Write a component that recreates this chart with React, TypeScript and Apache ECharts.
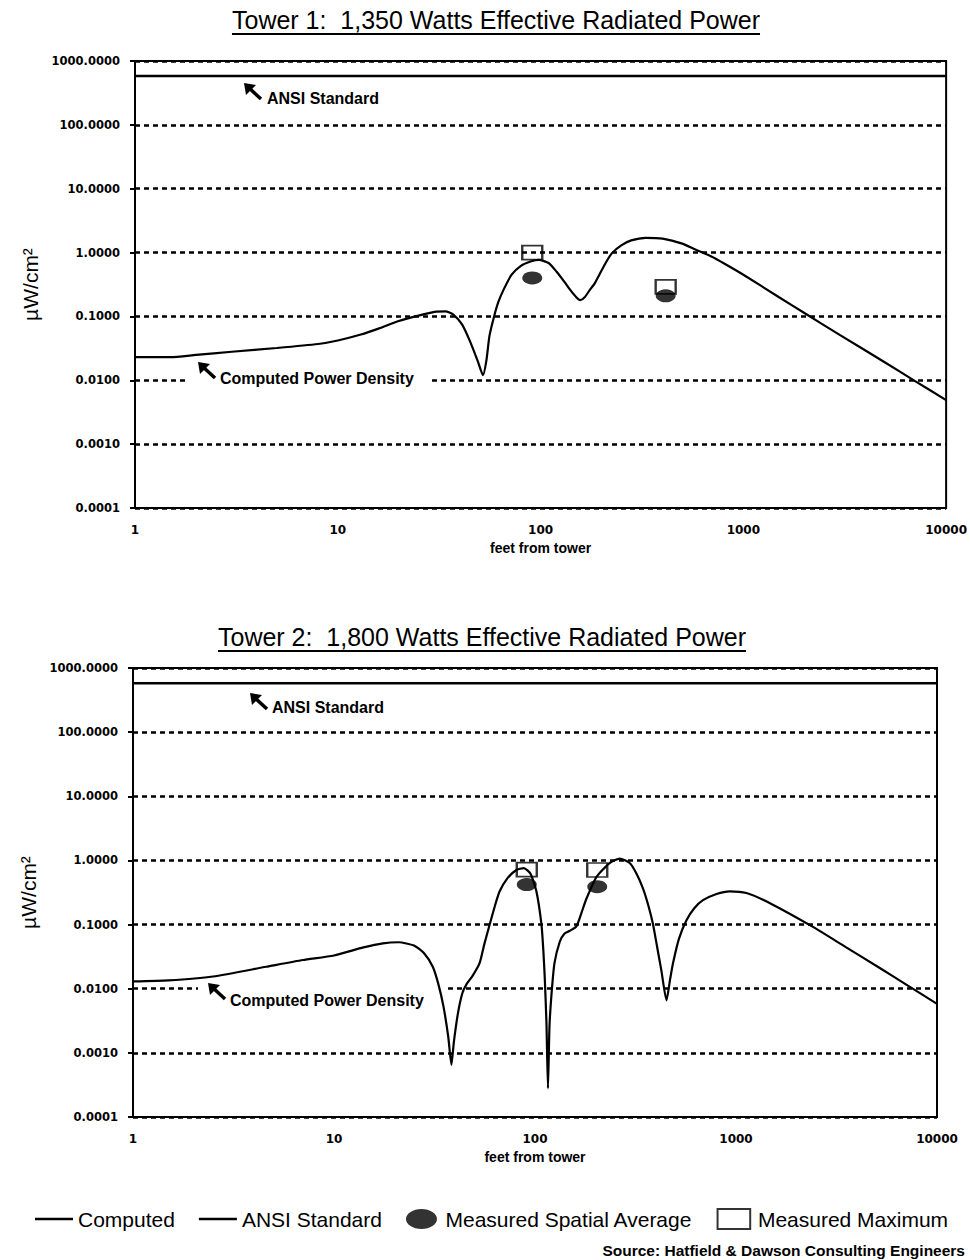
import React, { useEffect, useRef } from "react";
import * as echarts from "echarts";

// ---------- data ----------
const ANSI_LIMIT = 580;
const X_RANGE = [1, 10000];

const T1_DIST = [1, 1.5, 2, 3, 5, 8, 10, 13, 16, 20, 25, 30, 34, 37, 41, 45, 49, 52, 54, 56, 59, 62, 66, 72, 80, 90, 98, 110, 120, 130, 140, 150, 157, 165, 175, 185, 195, 210, 225, 250, 280, 330, 400, 500, 580, 700, 800, 1000, 1500, 2000, 3000, 5000, 7000, 10000];
const T1_COMPUTED = [0.023, 0.023, 0.025, 0.028, 0.032, 0.037, 0.042, 0.052, 0.065, 0.085, 0.103, 0.118, 0.12, 0.108, 0.075, 0.04, 0.02, 0.012, 0.02, 0.05, 0.1, 0.17, 0.27, 0.45, 0.62, 0.73, 0.77, 0.68, 0.5, 0.36, 0.26, 0.2, 0.18, 0.2, 0.26, 0.33, 0.45, 0.7, 0.98, 1.3, 1.55, 1.7, 1.65, 1.38, 1.12, 0.86, 0.68, 0.45, 0.2, 0.113, 0.051, 0.019, 0.0098, 0.0049];
const T1_MEAS_DIST = [91, 414];
const T1_MEAS_AVG = [0.4, 0.21];
const T1_MEAS_MAX = [1.0, 0.29];

const T2_DIST = [1, 1.5, 2.5, 4.6, 7, 10, 14, 17.5, 21, 25, 28, 31, 33, 35, 37, 38.4, 39.5, 41.4, 43.5, 45.6, 49, 53, 56, 59.5, 63, 66.7, 73, 80.8, 88, 95, 101.6, 107.7, 110, 111.8, 114, 116, 118, 120.7, 125, 132.8, 140, 149, 160.7, 170, 180, 202, 235, 264, 296, 320, 344, 366, 386, 405, 425, 451, 470, 486, 520, 567, 620, 685, 800, 930, 1127, 1500, 2415, 3500, 5190, 7000, 10000];
const T2_COMPUTED = [0.013, 0.0135, 0.0155, 0.022, 0.028, 0.033, 0.044, 0.051, 0.053, 0.047, 0.036, 0.022, 0.012, 0.0054, 0.0018, 0.00065, 0.0015, 0.0042, 0.0085, 0.0117, 0.016, 0.025, 0.05, 0.1, 0.19, 0.33, 0.53, 0.71, 0.76, 0.62, 0.33, 0.1, 0.04, 0.015, 0.003, 0.00028, 0.0025, 0.0079, 0.025, 0.054, 0.072, 0.08, 0.094, 0.15, 0.25, 0.55, 0.91, 1.07, 0.91, 0.62, 0.37, 0.2, 0.103, 0.045, 0.0195, 0.0066, 0.014, 0.025, 0.06, 0.117, 0.18, 0.24, 0.3, 0.33, 0.31, 0.21, 0.092, 0.045, 0.021, 0.0117, 0.0058];
const T2_MEAS_DIST = [91, 204];
const T2_MEAS_AVG = [0.42, 0.39];
const T2_MEAS_MAX = [0.72, 0.71];

const TITLES = [
  "Tower 1:  1,350 Watts Effective Radiated Power",
  "Tower 2:  1,800 Watts Effective Radiated Power",
];
const SOURCE = "Source: Hatfield & Dawson Consulting Engineers";

const SANS = '"Liberation Sans", Arial, sans-serif';
const DEJAVU = '"DejaVu Sans", sans-serif';

function measure(text: string, font: string): number {
  const c = document.createElement("canvas").getContext("2d");
  if (!c) return text.length * 11;
  c.font = font;
  return c.measureText(text).width;
}

function arrow(tx: number, ty: number, z: number) {
  return [
    {
      type: "line",
      z,
      shape: { x1: tx + 4, y1: ty + 4, x2: tx + 17, y2: ty + 16 },
      style: { stroke: "#000", lineWidth: 3.5 },
    },
    {
      type: "polygon",
      z,
      shape: { points: [[tx, ty], [tx + 12, ty + 2], [tx + 2, ty + 12]] },
      style: { fill: "#000" },
    },
  ];
}

function pairs(xs: number[], ys: number[]) {
  return xs.map((x, i) => [x, ys[i]]);
}

export default function App() {
  const ref = useRef<HTMLDivElement>(null);

  useEffect(() => {
    if (!ref.current) return;
    const chart = echarts.init(ref.current, undefined, { renderer: "svg" });

    const titleFont = `25px ${SANS}`;
    const w1 = measure(TITLES[0], titleFont);
    const w2 = measure(TITLES[1], titleFont);
    const c1 = 496;
    const c2 = 482;

    const grids = [
      { left: 135, top: 61, width: 813, height: 447 },
      { left: 133, top: 668, width: 804, height: 449 },
    ];

    const xAxes = grids.map((_, i) => ({
      type: "log",
      gridIndex: i,
      logBase: 10,
      min: X_RANGE[0],
      max: X_RANGE[1],
      splitNumber: 4,
      axisLine: { show: true, lineStyle: { color: "#000", width: 2 } },
      axisTick: { show: false },
      splitLine: { show: false },
      axisLabel: {
        color: "#000",
        fontFamily: DEJAVU,
        fontWeight: "bold",
        fontSize: 12,
        margin: 16,
        formatter: (v: number) => String(Math.round(v)),
      },
      name: "feet from tower",
      nameLocation: "middle",
      nameGap: 33,
      nameTextStyle: { color: "#000", fontFamily: SANS, fontWeight: "bold", fontSize: 14 },
    }));

    const yAxes = grids.map((_, i) => ({
      type: "log",
      gridIndex: i,
      logBase: 10,
      min: 0.0001,
      max: 1000,
      splitNumber: 7,
      axisLine: { show: true, lineStyle: { color: "#000", width: 2 } },
      axisTick: { show: true, length: 5, lineStyle: { color: "#000", width: 2 } },
      splitLine: { show: true, lineStyle: { color: "#000", width: 2.5, type: [5, 4] } },
      axisLabel: {
        color: "#000",
        fontFamily: DEJAVU,
        fontWeight: "bold",
        fontSize: 11.5,
        margin: 15,
        formatter: (v: number) => v.toFixed(4),
      },
      name: "µW/cm²",
      nameLocation: "middle",
      nameRotate: 90,
      nameGap: i === 0 ? 90 : 88,
      nameTextStyle: { color: "#000", fontFamily: SANS, fontSize: 21 },
    }));

    const lineSeries = (name: string, idx: number, data: number[][], width: number) => ({
      type: "line",
      name,
      xAxisIndex: idx,
      yAxisIndex: idx,
      data,
      symbol: "none",
      showSymbol: false,
      smooth: name === "Computed" ? 0.2 : false,
      color: "#000",
      lineStyle: { color: "#000", width },
      z: 3,
    });

    const avgSeries = (idx: number, xs: number[], ys: number[]) => ({
      type: "scatter",
      name: "Measured Spatial Average",
      xAxisIndex: idx,
      yAxisIndex: idx,
      data: pairs(xs, ys),
      symbol: "circle",
      symbolSize: [20, 13],
      itemStyle: { color: "#000" },
      z: 4,
    });

    const maxSeries = (idx: number, xs: number[], ys: number[]) => ({
      type: "scatter",
      name: "Measured Maximum",
      xAxisIndex: idx,
      yAxisIndex: idx,
      data: pairs(xs, ys),
      symbol: "rect",
      symbolSize: [20, 14],
      itemStyle: { color: "rgba(255,255,255,0)", borderColor: "#000", borderWidth: 2 },
      z: 5,
    });

    const label = (x: number, y: number, text: string) => ({
      type: "text",
      x,
      y,
      z: 2,
      style: { text, font: `bold 16px ${SANS}`, fill: "#000", verticalAlign: "middle" },
    });

    const option = {
      animation: false,
      backgroundColor: "#fff",
      grid: grids.map((g) => ({
        ...g,
        show: true,
        borderColor: "#000",
        borderWidth: 2,
        backgroundColor: "rgba(0,0,0,0)",
      })),
      xAxis: xAxes,
      yAxis: yAxes,
      legend: {
        left: 30,
        top: 1203,
        itemWidth: 38,
        itemHeight: 20,
        itemGap: 24,
        selectedMode: false,
        textStyle: { color: "#000", fontFamily: SANS, fontSize: 21 },
        data: [
          { name: "Computed", icon: "path://M0,0H38V2.4H0Z" },
          { name: "ANSI Standard", icon: "path://M0,0H38V2.4H0Z" },
          {
            name: "Measured Spatial Average",
            icon: "path://M0,10A15.5,10,0,1,1,31,10A15.5,10,0,1,1,0,10Z",
          },
          { name: "Measured Maximum", icon: "path://M0,0H31V19H0Z" },
        ],
      },
      series: [
        lineSeries("Computed", 0, pairs(T1_DIST, T1_COMPUTED), 2.2),
        lineSeries("ANSI Standard", 0, [[X_RANGE[0], ANSI_LIMIT], [X_RANGE[1], ANSI_LIMIT]], 2.5),
        avgSeries(0, T1_MEAS_DIST, T1_MEAS_AVG),
        maxSeries(0, T1_MEAS_DIST, T1_MEAS_MAX),
        lineSeries("Computed", 1, pairs(T2_DIST, T2_COMPUTED), 2.2),
        lineSeries("ANSI Standard", 1, [[X_RANGE[0], ANSI_LIMIT], [X_RANGE[1], ANSI_LIMIT]], 2.5),
        avgSeries(1, T2_MEAS_DIST, T2_MEAS_AVG),
        maxSeries(1, T2_MEAS_DIST, T2_MEAS_MAX),
      ],
      graphic: [
        {
          type: "text",
          x: c1,
          y: 20,
          style: { text: TITLES[0], font: titleFont, fill: "#000", align: "center", verticalAlign: "middle" },
        },
        {
          type: "line",
          shape: { x1: c1 - w1 / 2, y1: 34, x2: c1 + w1 / 2, y2: 34 },
          style: { stroke: "#000", lineWidth: 2 },
        },
        {
          type: "text",
          x: c2,
          y: 637,
          style: { text: TITLES[1], font: titleFont, fill: "#000", align: "center", verticalAlign: "middle" },
        },
        {
          type: "line",
          shape: { x1: c2 - w2 / 2, y1: 651, x2: c2 + w2 / 2, y2: 651 },
          style: { stroke: "#000", lineWidth: 2 },
        },
        // annotations chart 1
        ...arrow(244, 83, 2),
        label(267, 98, "ANSI Standard"),
        { type: "rect", z: 1, shape: { x: 187, y: 371, width: 243, height: 16 }, style: { fill: "#fff" } },
        ...arrow(198, 362, 2),
        label(220, 378, "Computed Power Density"),
        // annotations chart 2
        ...arrow(250, 693, 2),
        label(272, 707, "ANSI Standard"),
        { type: "rect", z: 1, shape: { x: 198, y: 984, width: 247, height: 12 }, style: { fill: "#fff" } },
        ...arrow(208, 983, 2),
        label(230, 1000, "Computed Power Density"),
        {
          type: "text",
          x: 965,
          y: 1250,
          style: { text: SOURCE, font: `bold 15.5px ${SANS}`, fill: "#000", align: "right", verticalAlign: "middle" },
        },
      ],
    };

    chart.setOption(option as any);
    return () => chart.dispose();
  }, []);

  return (
    <div
      ref={ref}
      style={{ position: "absolute", left: 0, top: 0, width: 970, height: 1260, background: "#fff" }}
    />
  );
}
